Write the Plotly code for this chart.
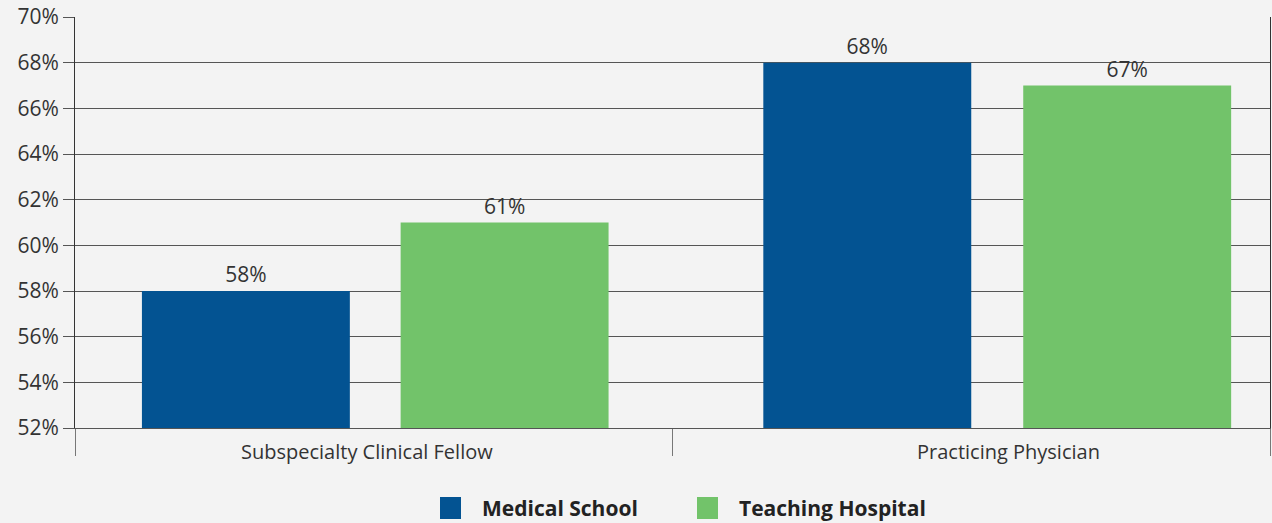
import plotly.graph_objects as go

categories = ["Subspecialty Clinical Fellow", "Practicing Physician"]
series_names = ["Medical School", "Teaching Hospital"]
medical_school = [58, 68]
teaching_hospital = [61, 67]
y_ticks = [52, 54, 56, 58, 60, 62, 64, 66, 68, 70]

COLORS = ["#035392", "#72c36a"]
BG = "#f3f3f3"
LINE = "#555555"
TEXT = "#333333"
FONT = "Open Sans, sans-serif"

# plot area in pixels (used only to place the custom legend)
L, R, T, B = 75, 2, 17, 95
W, H = 1272, 523
PW, PH = W - L - R, H - T - B

# bar placement inside each category (category units), the source isn't symmetric
BAR_W = 0.348
OFFSETS = [[-0.388, -0.348], [0.045, 0.087]]
LABEL_SHIFT = [-7, 37]


def px_x(px):
    return (px - L) / PW


def px_y(py):
    return (H - B - py) / PH


fig = go.Figure()
for name, vals, color, off in zip(series_names, [medical_school, teaching_hospital],
                                  COLORS, OFFSETS):
    fig.add_trace(go.Bar(
        x=categories, y=vals, name=name, marker_color=color,
        marker_line_width=0, showlegend=False,
        width=BAR_W, offset=off,
        text=[f"{v}%" for v in vals], textposition="outside",
        textfont=dict(size=21, color=TEXT, family=FONT),
        cliponaxis=False,
    ))

# category labels (as annotations so they can sit under the bar groups)
for cat, shift in zip(categories, LABEL_SHIFT):
    fig.add_annotation(x=cat, xref="x", y=px_y(451), yref="paper", text=cat,
                       showarrow=False, xshift=shift, yanchor="middle",
                       font=dict(size=20, color=TEXT, family=FONT))

# legend drawn as squares + labels
legend_pos = [(440, 480), (697, 737)]
for (sq_x, txt_x), name, color in zip(legend_pos, series_names, COLORS):
    fig.add_shape(type="rect", xref="paper", yref="paper",
                  x0=px_x(sq_x), x1=px_x(sq_x + 21), y0=px_y(519), y1=px_y(497),
                  fillcolor=color, line_width=0)
    fig.add_annotation(x=px_x(txt_x), y=px_y(508), xref="paper", yref="paper",
                       text=f"<b>{name}</b>", showarrow=False, xanchor="left",
                       yanchor="middle", font=dict(size=21, color="#222222", family=FONT))

fig.update_layout(
    width=W, height=H,
    paper_bgcolor=BG, plot_bgcolor=BG,
    font=dict(family=FONT, color=TEXT, size=21),
    margin=dict(l=L, r=R, t=T, b=B),
    barmode="group",
    showlegend=False,
)
fig.update_yaxes(
    range=[52, 70], tickvals=y_ticks, ticktext=[f"{v}%" for v in y_ticks],
    showgrid=True, gridcolor=LINE, gridwidth=1,
    showline=True, linecolor="#333333", linewidth=1, mirror=True,
    ticks="outside", ticklen=11, tickcolor=LINE, zeroline=False,
    tickfont=dict(size=21, color=TEXT),
)
fig.update_xaxes(
    showline=True, linecolor=LINE, linewidth=1,
    ticks="outside", tickson="boundaries", ticklen=27, tickcolor="#777777",
    showticklabels=False,
)

fig.write_html(
    "out.html",
    config=dict(displayModeBar=False),
    post_script="document.body.style.margin='0';document.body.style.background='#f3f3f3';",
)
